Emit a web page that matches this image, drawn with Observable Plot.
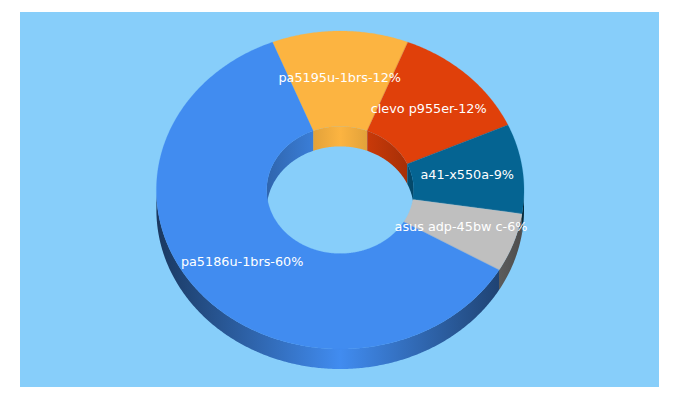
<!DOCTYPE html>
<html>
<head>
<meta charset="utf-8">
<script src="https://cdn.jsdelivr.net/npm/d3@7"></script>
<script src="https://cdn.jsdelivr.net/npm/@observablehq/plot@0.6"></script>
<style>html,body{margin:0;padding:0;background:#fff}svg{display:block}</style>
</head>
<body>
<div id="chart"></div>
<script>
const labels = ["pa5195u-1brs-12%", "clevo p955er-12%", "a41-x550a-9%", "asus adp-45bw c-6%", "pa5186u-1brs-60%"];
const values = [12, 12.3, 9.1, 6, 60.6];
const colors = ["#FCB441", "#E0400A", "#056492", "#BFBFBF", "#418CF0"];
const background = "#87CEFA";

const startDeg = -21.6, innerR = 0.4, labelR = 0.7, depth = 20 / 159;
const rad = d => d * Math.PI / 180;
const ptx = (r, a) => r * Math.sin(rad(a));
const pty = (r, a) => r * Math.cos(rad(a));

const pie = d3.pie().sort(null).startAngle(rad(startDeg)).endAngle(rad(startDeg + 360));
const slices = pie(values).map((s, i) => ({
  i, a0: s.startAngle * 180 / Math.PI, a1: s.endAngle * 180 / Math.PI,
  color: colors[i], label: labels[i]
}));

function sweep(a0, a1) {
  const out = d3.range(a0, a1, 0.5);
  out.push(a1);
  return out;
}
function clip(s, ranges) {
  return ranges
    .map(([lo, hi]) => [Math.max(s.a0, lo), Math.min(s.a1, hi)])
    .filter(([a, b]) => b > a);
}
const wallArea = (r, a0, a1) => sweep(a0, a1).map(a => ({
  x: ptx(r, a), top: pty(r, a), bottom: pty(r, a) - depth
}));
const faceArea = s => sweep(s.a0, s.a1).map(a => ({
  x1: ptx(1, a), y1: pty(1, a), x2: ptx(innerR, a), y2: pty(innerR, a)
}));

const marks = [Plot.frame({fill: background, stroke: "none", dx: -0.5, dy: -0.5})];

// outer wall, front half
slices.forEach(s => clip(s, [[90, 270]]).forEach(([a, b]) => {
  marks.push(Plot.areaY(wallArea(1, a, b), {x: "x", y1: "top", y2: "bottom", fill: `url(#outer${s.i})`}));
}));
// inner wall, back half
slices.forEach(s => clip(s, [[-90, 90], [270, 450]]).forEach(([a, b]) => {
  marks.push(Plot.areaY(wallArea(innerR, a, b), {x: "x", y1: "top", y2: "bottom", fill: `url(#inner${s.i})`}));
}));
// top faces
slices.forEach(s => {
  marks.push(Plot.area(faceArea(s), {x1: "x1", y1: "y1", x2: "x2", y2: "y2", fill: s.color, stroke: s.color, strokeWidth: 0.2}));
});
// labels
marks.push(Plot.text(slices, {
  x: s => ptx(labelR, (s.a0 + s.a1) / 2),
  y: s => pty(labelR, (s.a0 + s.a1) / 2),
  text: "label",
  fill: "#fff",
  fontSize: 12.8,
  dx: -1,
  dy: -1,
  fontFamily: "DejaVu Sans"
}));

const plot = Plot.plot({
  width: 680,
  height: 400,
  marginLeft: 20,
  marginRight: 21,
  marginTop: 12,
  marginBottom: 13,
  x: {domain: [-320.2 / 183.8, 318.8 / 183.8], axis: null},
  y: {domain: [-197 / 159, 178 / 159], axis: null},
  style: {background: "#fff"},
  marks
});

const xs = plot.scale("x");
const defs = d3.select(plot).insert("defs", ":first-child");
function gradient(id, color, r, edge) {
  const base = d3.rgb(color);
  const shade = f => d3.rgb(base.r * f, base.g * f, base.b * f).formatHex();
  const g = defs.append("linearGradient").attr("id", id)
    .attr("gradientUnits", "userSpaceOnUse")
    .attr("x1", xs.apply(-r)).attr("x2", xs.apply(r))
    .attr("y1", 0).attr("y2", 0);
  g.append("stop").attr("offset", 0).attr("stop-color", shade(edge));
  g.append("stop").attr("offset", 0.5).attr("stop-color", shade(1));
  g.append("stop").attr("offset", 1).attr("stop-color", shade(edge));
}
slices.forEach(s => {
  gradient(`outer${s.i}`, s.color, 1, 0.4);
  gradient(`inner${s.i}`, s.color, innerR, 0.72);
});

document.getElementById("chart").append(plot);
</script>
</body>
</html>
